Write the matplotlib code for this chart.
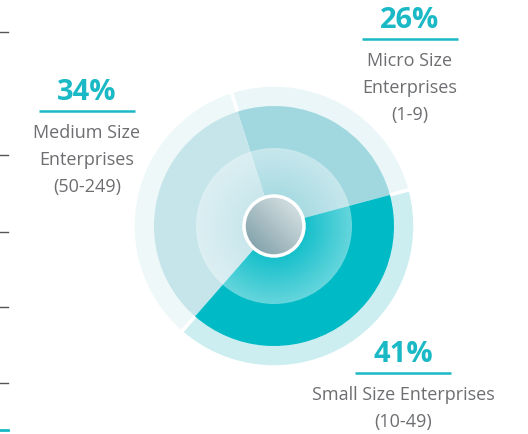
import numpy as np
import matplotlib.pyplot as plt
from matplotlib.patches import Wedge, Circle

# data
segments = ['Micro Size\nEnterprises\n(1-9)',
            'Medium Size\nEnterprises\n(50-249)',
            'Small Size Enterprises\n(10-49)']
shares = [26, 34, 41]
mid_colors = ['#a1d8e0', '#c5e5eb', '#00bac6']
outer_colors = ['#eaf6f8', '#eef8f9', '#cdeef1']

W, H = 528, 434
cx, cy = 274, 226
r_out, r_mid, r_in, r_core = 141, 120, 78, 30
start = 15.0

label_pos = [(410, 21), (87, 93), (403, 355)]
teal = '#1ab9c5'
grey = '#6d6e71'
font = 'Open Sans'

fig = plt.figure(figsize=(W / 100, H / 100), dpi=100)
ax = fig.add_axes([0, 0, 1, 1])
ax.set_xlim(0, W)
ax.set_ylim(H, 0)
ax.set_aspect('equal')
ax.axis('off')

# angles go counter-clockwise on screen; y axis is flipped so negate
fracs = np.array(shares) / sum(shares)
bounds = start + np.concatenate([[0], np.cumsum(fracs)]) * 360
for i in range(len(shares)):
    a0, a1 = bounds[i], bounds[i + 1]
    ax.add_patch(Wedge((cx, cy), r_out, -a1, -a0, facecolor=outer_colors[i],
                       edgecolor='white', linewidth=2.5, zorder=1))
    ax.add_patch(Wedge((cx, cy), r_mid, -a1, -a0, facecolor=mid_colors[i],
                       edgecolor='none', zorder=2))

# inner lighter disk with radial white gradient
n = 400
xs = np.linspace(cx - r_in, cx + r_in, n)
ys = np.linspace(cy - r_in, cy + r_in, n)
X, Y = np.meshgrid(xs, ys)
R = np.hypot(X - cx, Y - cy)
alpha = np.clip(0.08 + 0.32 * (R - r_core) / (r_in - r_core), 0, 1)
img = np.ones((n, n, 4))
img[..., 3] = alpha
im = ax.imshow(img, extent=(cx - r_in, cx + r_in, cy + r_in, cy - r_in),
               interpolation='bilinear', zorder=3)
im.set_clip_path(Circle((cx, cy), r_in, transform=ax.transData))

# centre button with linear grey gradient
m = 200
u = np.linspace(0, 1, m)
U, V = np.meshgrid(u, u)
t = np.clip((U + (1 - V)) / 2, 0, 1)  # dark bottom-left -> light top-right
c0 = np.array([0x74, 0x97, 0xa1]) / 255
c1 = np.array([0xe4, 0xeb, 0xec]) / 255
core = c0 + (c1 - c0) * t[..., None]
im2 = ax.imshow(core, extent=(cx - r_core, cx + r_core, cy + r_core, cy - r_core),
                interpolation='bilinear', zorder=4)
im2.set_clip_path(Circle((cx, cy), r_core, transform=ax.transData))
ax.add_patch(Circle((cx, cy), r_core, facecolor='none', edgecolor='white',
                    linewidth=2.5, zorder=5))

# labels
for (x, y), s, lab in zip(label_pos, shares, segments):
    ax.text(x, y, f'{s}%', ha='center', va='center', color=teal,
            fontsize=21, fontweight='bold', family=font)
    ax.plot([x - 48, x + 48], [y + 18, y + 18], color=teal, lw=1.8,
            solid_capstyle='butt')
    ax.text(x, y + 31, lab, ha='center', va='top', color=grey,
            fontsize=13, family=font, linespacing=1.65)

# cropped neighbour axis ticks on the left edge
for ty in [32, 155, 232, 307, 383]:
    ax.plot([0, 8], [ty, ty], color='#555555', lw=1)
ax.plot([0, 8], [430, 430], color=teal, lw=2)

fig.savefig('out.png', dpi=100)
